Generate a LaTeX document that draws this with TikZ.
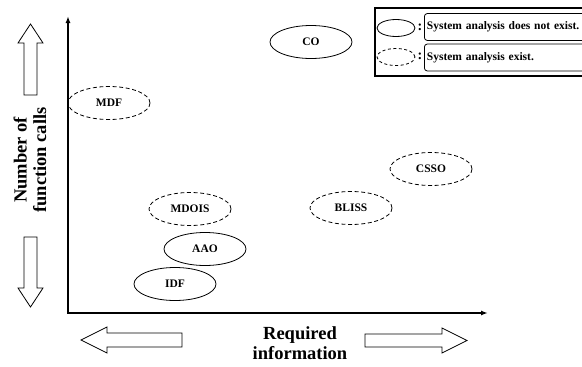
\documentclass[tikz,border=0pt]{standalone}
\usepackage{fontspec}
\setmainfont{Liberation Serif}
\usetikzlibrary{shapes.geometric,arrows.meta}
\begin{document}
\begin{tikzpicture}[x=1pt,y=-1pt, line width=0.8pt,
  method/.style={draw,ellipse,minimum width=82pt,minimum height=33pt,inner sep=0pt,font=\fontsize{11.5}{13}\selectfont\bfseries},
  sysan/.style={method,dash pattern=on 4pt off 2.6pt},
  bigarrow/.style={draw,fill=white,line width=0.8pt},
  axislabel/.style={font=\fontsize{18.5}{19.5}\selectfont\bfseries,align=center},
  legbox/.style={draw,rounded corners=3pt,anchor=west,minimum height=27pt,text width=176pt,inner xsep=2.5pt,align=left,font=\fontsize{11.5}{13}\selectfont\bfseries}]
\useasboundingbox (0,0) rectangle (582,367);
% axes
\coordinate (ytop) at (68,16);
\coordinate (orig) at (68,313);
\coordinate (xend) at (488,313);
\draw[line width=1.8pt,{Latex[length=7pt,width=5pt]}-{Latex[length=7pt,width=5pt]}] (ytop) -- (orig) -- (xend);
% methods
\node[method] (co) at (311,42) {CO};
\node[sysan] (mdf) at (109,103) {MDF};
\node[sysan] (csso) at (431,169) {CSSO};
\node[sysan] (mdois) at (190,209) {MDOIS};
\node[sysan] (bliss) at (351,208) {BLISS};
\node[method] (aao) at (205,249) {AAO};
\node[method] (idf) at (175,284) {IDF};
% axis labels and big arrows
\node[axislabel,rotate=90] (ncalls) at (30,160) {Number of\\function calls};
\draw[bigarrow] (24,95) -- (24,43) -- (18,43) -- (30.5,24) -- (43,43) -- (37,43) -- (37,95) -- cycle;
\draw[bigarrow] (24,237) -- (24,288) -- (18,288) -- (30.5,307) -- (43,288) -- (37,288) -- (37,237) -- cycle;
\node[axislabel] (reqinfo) at (300,343) {Required\\information};
\draw[bigarrow] (182,333) -- (107,333) -- (107,327) -- (81,340) -- (107,353) -- (107,347) -- (182,347) -- cycle;
\draw[bigarrow] (365,334) -- (442,334) -- (442,328) -- (467,340.5) -- (442,353) -- (442,347) -- (365,347) -- cycle;
% legend
\draw[line width=1.5pt] (375,8) rectangle (600,76);
\node[draw,ellipse,minimum width=38pt,minimum height=17pt,inner sep=0pt] (legsolid) at (396,28) {};
\node[draw,ellipse,minimum width=38pt,minimum height=17pt,inner sep=0pt,dash pattern=on 3pt off 2.5pt] (legdash) at (396,57) {};
\node[font=\fontsize{14}{14}\selectfont\bfseries] at (420,27) {:};
\node[font=\fontsize{14}{14}\selectfont\bfseries] at (420,56) {:};
\node[legbox] (legnot) at (424,27) {System analysis does not exist.};
\node[legbox] (legyes) at (424,57.5) {System analysis exist.};
\end{tikzpicture}
\end{document}
